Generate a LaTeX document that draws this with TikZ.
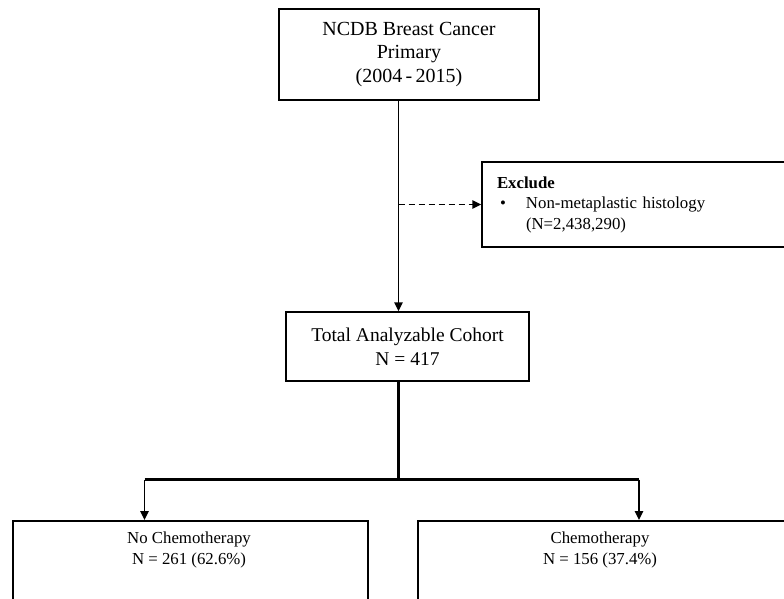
\documentclass[tikz,border=0pt]{standalone}
\usepackage{fontspec}
\setmainfont{Liberation Serif}
\usetikzlibrary{arrows.meta}
\begin{document}
\begin{tikzpicture}[x=1pt,y=1pt,
  box/.style={draw, line width=1.5pt, inner sep=0pt, align=center},
  txt/.style={inner sep=0pt, align=center},
  arr/.style={line width=1.5pt, -{Triangle[length=9pt,width=8.5pt]}},
  thick line/.style={line width=3pt}]
\useasboundingbox (0,0) rectangle (784,-598);
\clip (0,0) rectangle (784,-598);
\fill[white] (0,0) rectangle (784,-598);
% boxes
\node[box, minimum width=260, minimum height=91, font=\fontsize{20}{23.5}\selectfont] (top) at (409,-54.5)
  {NCDB Breast Cancer\\Primary\\(2004\,-\,2015)};
\node[box, minimum width=320, minimum height=85, text width=290, align=left, inner xsep=14pt,
  font=\fontsize{16.8}{20.5}\selectfont] (exc) at (642,-204.5)
  {\textbf{Exclude}\\\makebox[29pt][l]{\hspace{3pt}•}Non-metaplastic histology\\\hspace*{29pt}(N=2,438,290)};
\node[box, minimum width=243, minimum height=69, font=\fontsize{19.5}{24}\selectfont] (total) at (407.5,-346.5)
  {Total Analyzable Cohort\\N = 417};
\node[box, minimum width=355, minimum height=120, anchor=north] (nochemo) at (190.5,-520) {};
\node[txt, font=\fontsize{16.8}{21}\selectfont, anchor=north] (nochemotxt) at (189,-532)
  {No Chemotherapy\\N = 261 (62.6\%)};
\node[box, minimum width=380, minimum height=120, anchor=north west] (chemo) at (417,-520) {};
\node[txt, font=\fontsize{16.8}{21}\selectfont, anchor=north] (chemotxt) at (600,-532)
  {Chemotherapy\\N = 156 (37.4\%)};
% coordinates
\coordinate (vx) at (398.5,0);
\coordinate (lx) at (144.5,0);
\coordinate (rx) at (639,0);
\coordinate (by) at (0,-479.5);
% connectors
\draw[arr] (top.south -| vx) -- (total.north -| vx);
\draw[arr, dashed, dash pattern=on 6pt off 4pt] (exc.west -| vx) -- (exc.west);
\draw[thick line] (total.south -| vx) -- (vx |- by);
\draw[thick line] (lx |- by) -- (rx |- by);
\draw[arr] (lx |- by) -- (nochemo.north -| lx);
\draw[arr] (rx |- by) -- (chemo.north -| rx);
\end{tikzpicture}
\end{document}
